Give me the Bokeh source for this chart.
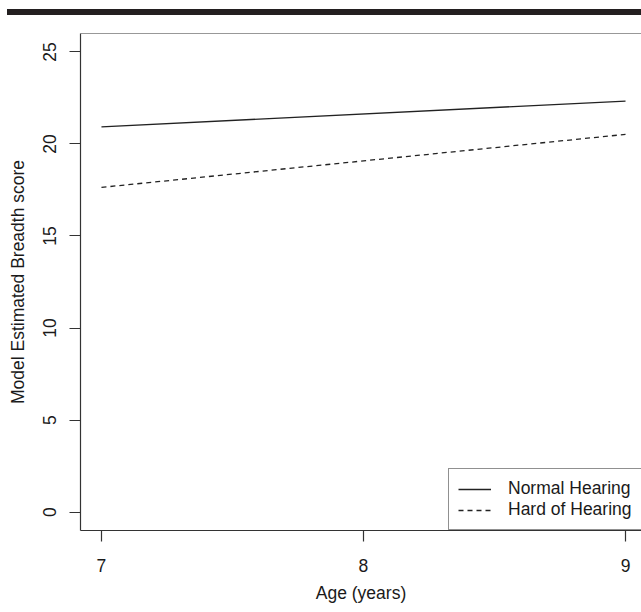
from bokeh.plotting import figure
from bokeh.models import Range1d, FixedTicker, Legend, LegendItem, Span, Div
from bokeh.layouts import column
from bokeh.embed import file_html
from bokeh.resources import INLINE

# Data
ages = [7, 9]
normal_hearing = [20.93, 22.33]
hard_of_hearing = [17.64, 20.52]
x_ticks = [7, 8, 9]
y_ticks = [0, 5, 10, 15, 20, 25]
series_labels = ["Normal Hearing", "Hard of Hearing"]

FONT = "Liberation Sans"
FS = "17.5px"
INK = "#1a1a1a"

p = figure(width=641, height=590, output_backend="svg", toolbar_location=None,
           x_range=Range1d(6.92, 9.061), y_range=Range1d(-1, 26),
           min_border_left=80, min_border_right=0, min_border_top=18, min_border_bottom=72,
           margin=(0, 0, 0, 0))
p.outline_line_color = None
p.xgrid.visible = False
p.ygrid.visible = False
p.background_fill_color = "white"

for ax in (p.xaxis[0], p.yaxis[0]):
    ax.axis_line_color = "#333333"
    ax.axis_line_width = 1.2
    ax.major_tick_line_color = "#333333"
    ax.major_tick_line_width = 1.2
    ax.major_tick_out = 11
    ax.major_tick_in = 0
    ax.minor_tick_line_color = None
    ax.major_label_text_font = FONT
    ax.major_label_text_font_size = FS
    ax.major_label_text_color = INK
    ax.axis_label_text_font = FONT
    ax.axis_label_text_font_size = FS
    ax.axis_label_text_font_style = "normal"
    ax.axis_label_text_color = INK

p.xaxis[0].ticker = FixedTicker(ticks=x_ticks)
p.yaxis[0].ticker = FixedTicker(ticks=y_ticks)
p.xaxis[0].axis_label = "Age (years)"
p.yaxis[0].axis_label = "Model Estimated Breadth score"
p.xaxis[0].major_label_standoff = 17
p.xaxis[0].axis_label_standoff = 8
p.yaxis[0].major_label_orientation = "vertical"
p.yaxis[0].major_label_standoff = 13
p.yaxis[0].axis_label_standoff = 13

# top border of the box
p.add_layout(Span(location=26, dimension="width", line_color="#333333", line_width=1.2))

r1 = p.line(ages, normal_hearing, line_color="#222222", line_width=1.3)
r2 = p.line(ages, hard_of_hearing, line_color="#222222", line_width=1.3, line_dash="5 4")

legend = Legend(items=[LegendItem(label=series_labels[0], renderers=[r1]),
                       LegendItem(label=series_labels[1], renderers=[r2])],
                location=(368, 0))
legend.border_line_color = "#222222"
legend.border_line_width = 1.2
legend.background_fill_color = "white"
legend.background_fill_alpha = 1
legend.label_text_font = FONT
legend.label_text_font_size = FS
legend.label_text_color = INK
legend.glyph_width = 33
legend.glyph_height = 20
legend.label_height = 20
legend.label_standoff = 17
legend.padding = 9
legend.spacing = 0
legend.margin = 0
p.add_layout(legend, "center")

# black rule at the very top of the image
bar = Div(text="", width=634, height=6, margin=(9, 0, 0, 7),
          styles={"background-color": "#231f20"})

layout = column(bar, p, spacing=0)

open("out.html", "w").write(file_html(layout, INLINE))
